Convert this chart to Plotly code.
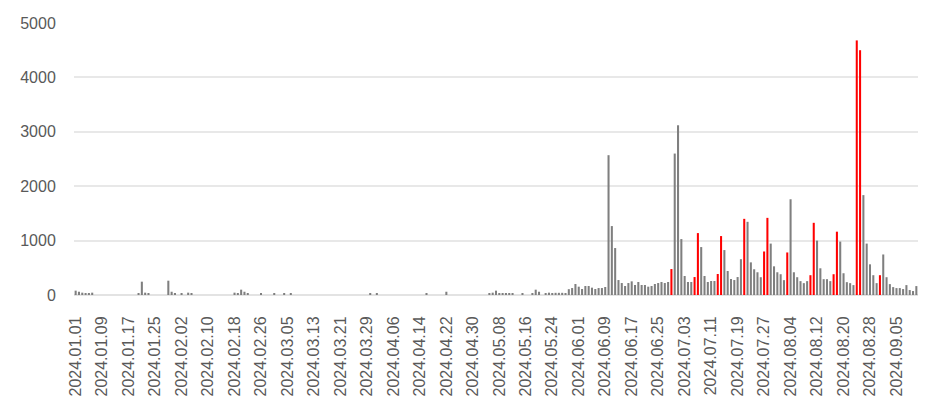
import pandas as pd
import plotly.graph_objects as go

start_date = "2024-01-01"
end_date = "2024-09-11"
dates = [d.strftime("%Y.%m.%d") for d in pd.date_range(start_date, end_date, freq="D")]

# daily values, 2024.01.01 .. 2024.09.11
values = [
    80, 60, 43, 25, 25, 43, 0, 0, 0, 0,            # 0-9
    0, 0, 0, 0, 0, 0, 0, 0, 0, 25,                 # 10-19
    245, 43, 25, 0, 0, 0, 0, 0, 263, 60,           # 20-29
    25, 0, 25, 0, 43, 25, 0, 0, 0, 0,              # 30-39
    0, 0, 0, 0, 0, 0, 0, 0, 43, 25,                # 40-49
    98, 60, 25, 0, 0, 0, 25, 0, 0, 0,              # 50-59
    25, 0, 0, 25, 0, 25, 0, 0, 0, 0,               # 60-69
    0, 0, 0, 0, 0, 0, 0, 0, 0, 0,                  # 70-79
    0, 0, 0, 0, 0, 0, 0, 0, 0, 25,                 # 80-89
    0, 25, 0, 0, 0, 0, 0, 0, 0, 0,                 # 90-99
    0, 0, 0, 0, 0, 0, 25, 0, 0, 0,                 # 100-109
    0, 0, 60, 0, 0, 0, 0, 0, 0, 0,                 # 110-119
    0, 0, 0, 0, 0, 25, 43, 80, 25, 25,             # 120-129
    25, 25, 25, 0, 0, 25, 0, 0, 25, 98,            # 130-139
    60, 0, 25, 43, 25, 40, 40, 40, 25, 107,        # 140-149
    128, 202, 153, 110, 165, 165, 135, 110, 128, 128,   # 150-159
    147, 2570, 1267, 863, 275, 220, 165, 220, 251, 184, # 160-169
    239, 184, 184, 153, 165, 202, 220, 239, 220, 239,   # 170-179
    477, 2600, 3120, 1028, 349, 239, 239, 330, 1138, 881,  # 180-189
    349, 239, 257, 257, 386, 1083, 826, 441, 294, 275,     # 190-199
    330, 658, 1400, 1345, 600, 473, 418, 327, 800, 1418,   # 200-209
    945, 527, 418, 382, 273, 782, 1760, 418, 327, 255,     # 210-219
    218, 255, 364, 1327, 1000, 491, 291, 291, 255, 382,    # 220-229
    1164, 982, 400, 236, 218, 182, 4680, 4500, 1836, 945,  # 230-239
    564, 364, 218, 364, 745, 327, 200, 145, 127, 127,      # 240-249
    109, 182, 91, 73, 164,                                 # 250-254
]

red_dates = [
    "2024.06.29", "2024.07.06", "2024.07.07", "2024.07.13", "2024.07.14",
    "2024.07.21", "2024.07.27", "2024.07.28", "2024.08.03", "2024.08.10",
    "2024.08.11", "2024.08.17", "2024.08.18", "2024.08.24", "2024.08.25",
    "2024.08.31",
]

tick_labels = dates[::8]
y_ticks = [0, 1000, 2000, 3000, 4000, 5000]

colors = ["#ff0000" if d in red_dates else "#7f7f7f" for d in dates]

fig = go.Figure(go.Bar(x=dates, y=values, marker=dict(color=colors, line=dict(width=0))))

fnt = dict(family="Liberation Sans, Arial, sans-serif", size=16, color="#595959")
fig.update_layout(
    width=932, height=405,
    margin=dict(l=66, r=22, t=15, b=118),
    paper_bgcolor="white", plot_bgcolor="white",
    bargap=0.38, showlegend=False,
    font=fnt,
)
fig.update_xaxes(
    type="category", tickmode="array", tickvals=tick_labels, ticktext=tick_labels,
    tickangle=-90, tickfont=fnt, showgrid=False, automargin=False,
    ticks="outside", ticklen=14, tickcolor="rgba(0,0,0,0)",
    showline=False,
)
fig.update_yaxes(
    range=[0, 5000], tickmode="array", tickvals=y_ticks, automargin=False,
    tickfont=fnt, showgrid=True, gridcolor="#e8e8e8", gridwidth=1.5,
    zeroline=True, zerolinecolor="#e3e3e3", zerolinewidth=2,
    ticks="outside", ticklen=14, tickcolor="rgba(0,0,0,0)",
    showline=False,
)

fig.write_html("out.html")
